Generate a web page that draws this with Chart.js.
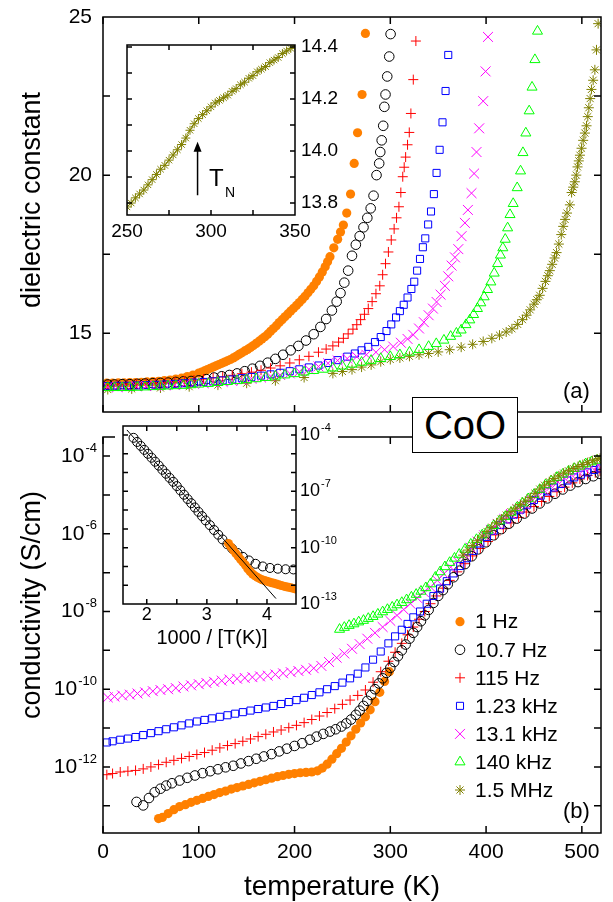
<!DOCTYPE html>
<html lang="en">
<head>
<meta charset="UTF-8">
<meta name="viewport" content="width=device-width, initial-scale=1.0">
<title>CoO: dielectric constant and conductivity</title>
<script src="https://cdn.jsdelivr.net/npm/chart.js"></script>
<style>
  body { margin: 0; background: #fff; }
  #fig { position: relative; width: 613px; height: 902px; overflow: hidden;
         font-family: "Liberation Sans", Arial, Helvetica, sans-serif; color: #000; }
  #fig canvas { position: absolute; }
  .txt { position: absolute; white-space: nowrap; line-height: 1; }
  .mid { transform: translate(-50%, -50%); }
  .rot { transform: translate(-50%, -50%) rotate(-90deg); }
  #coo { position: absolute; left: 412px; top: 397px; width: 104px; height: 54px;
         border: 1px solid #000; background: #fff; font-size: 40px; line-height: 54px; text-align: center; }
</style>
</head>
<body>
<div id="fig">
  <canvas id="epsChart" width="613" height="420" style="left:0;top:0"></canvas>
  <canvas id="sigChart" width="613" height="482" style="left:0;top:420px"></canvas>
  <canvas id="epsInset" width="240" height="220" style="left:112px;top:30px"></canvas>
  <canvas id="sigInset" width="240" height="240" style="left:113px;top:415px"></canvas>

  <div class="txt rot" style="left:31px;top:200px;font-size:27px">dielectric constant</div>
  <div class="txt rot" style="left:31px;top:605px;font-size:27px">conductivity (S/cm)</div>
  <div class="txt mid" style="left:342px;top:886px;font-size:28px">temperature (K)</div>
  <div class="txt mid" style="left:212px;top:637px;font-size:20px">1000 / [T(K)]</div>
  <div class="txt" style="left:563px;top:380px;font-size:22px">(a)</div>
  <div class="txt" style="left:563px;top:800px;font-size:22px">(b)</div>
  <div class="txt" style="left:209px;top:166px;font-size:24px">T</div>
  <div class="txt" style="left:225px;top:185px;font-size:14px">N</div>
  <div id="coo">CoO</div>
</div>

<script>
const FONT = '"Liberation Sans", Arial, Helvetica, sans-serif';
Chart.defaults.font.family = FONT;
Chart.defaults.color = '#000';

// ---------- data ----------
const freqLabels = ['1 Hz', '10.7 Hz', '115 Hz', '1.23 kHz', '13.1 kHz', '140 kHz', '1.5 MHz'];

// (a) dielectric constant vs temperature (K)
const epsT1Hz = [4,10,16,22,28,34,40,46,52,58,64,70,76,82,88,94,100,103,106,109,112,115,118,121,124,127,130,133,136,139,142,145,148,151,154,157,160,163,166,169,172,175,178,181,184,187,190,193,196,199,202,205,208,211,214,217,220,223,226,229,232,234.5,237,241,245,248,251,254.5,258.5,262.3,265.8,270.5,274];
const eps1Hz = [13.42,13.42,13.43,13.43,13.44,13.44,13.45,13.46,13.47,13.48,13.5,13.52,13.55,13.58,13.63,13.68,13.74,13.77,13.81,13.85,13.89,13.93,13.97,14.01,14.05,14.09,14.13,14.17,14.22,14.27,14.33,14.38,14.44,14.49,14.55,14.61,14.68,14.75,14.82,14.89,14.97,15.06,15.15,15.24,15.34,15.43,15.52,15.61,15.7,15.79,15.88,15.97,16.07,16.17,16.28,16.39,16.5,16.64,16.78,16.94,17.1,17.26,17.42,17.7,17.97,18.2,18.42,18.8,19.4,20.37,21.34,22.55,24.48];

const epsT10Hz = [5,12,20,28,36,44,52,60,68,76,84,92,100,108,116,124,132,140,148,156,164,172,180,188,196,204,212,220,227,233,239,244,248,252,256,260,264,268,272,276,279.5,282.5,285.6,288.4,289.5,291,292.6,293.8,295,296.8,298.9,300.3];
const eps10Hz = [13.38,13.38,13.39,13.39,13.4,13.41,13.42,13.43,13.44,13.46,13.48,13.49,13.51,13.55,13.6,13.64,13.68,13.73,13.8,13.88,13.97,14.07,14.19,14.32,14.46,14.6,14.77,14.97,15.2,15.45,15.72,16.0,16.27,16.6,16.98,17.45,17.8,18.07,18.35,18.65,18.95,19.35,20.0,20.37,20.73,21.1,21.56,22.16,22.55,23.12,23.75,24.46];

const epsT115Hz = [5,15,25,35,45,55,65,75,85,95,105,115,125,135,145,155,165,175,185,195,205,215,225,233,240,246,251,256,261,265,269,273,277,281,285,289,292,295,298,301,304,306.5,309,311,313,314.5,316,318,319.8,321.5,324,326.7];
const eps115Hz = [13.36,13.37,13.38,13.39,13.4,13.42,13.44,13.46,13.49,13.52,13.55,13.59,13.62,13.67,13.72,13.77,13.83,13.9,13.97,14.06,14.16,14.27,14.4,14.5,14.6,14.72,14.84,14.98,15.13,15.27,15.43,15.6,15.78,16.0,16.25,16.5,16.85,17.2,17.57,17.95,18.3,18.65,19.0,19.45,19.95,20.25,20.57,20.96,21.35,21.95,23.02,24.24];

const epsT1k = [5,15,25,35,45,55,65,75,85,95,105,115,125,135,145,155,165,175,185,195,205,215,225,235,245,255,263,270,277,284,290,296,301,306,310,314,318,322,325,328,331,334,336.5,339.5,342.5,345.5,348.3,351.5,354.5,357.7,360.5];
const eps1k = [13.33,13.34,13.34,13.35,13.36,13.37,13.38,13.4,13.42,13.44,13.46,13.48,13.51,13.54,13.58,13.62,13.66,13.7,13.75,13.8,13.86,13.92,13.98,14.06,14.15,14.26,14.36,14.46,14.57,14.72,14.88,15.07,15.28,15.5,15.7,15.9,16.13,16.4,16.63,16.98,17.35,17.72,18.0,18.44,18.85,19.4,20.07,20.8,21.67,22.66,23.8];

const epsT13k = [5,15,25,35,45,55,65,75,85,95,105,115,125,135,145,155,165,175,185,195,205,215,225,235,245,255,265,275,285,294,303,311,318,324,330,335,340,344.5,348.3,352.5,357,360.5,364,367.5,371,374.4,377.9,381,384.8,387.5,390,392.8,397,399.5,402];
const eps13k = [13.3,13.3,13.31,13.32,13.33,13.34,13.35,13.36,13.38,13.4,13.42,13.44,13.46,13.49,13.52,13.56,13.6,13.64,13.68,13.73,13.79,13.86,13.95,14.05,14.14,14.2,14.26,14.32,14.4,14.48,14.58,14.7,14.82,14.95,15.15,15.35,15.57,15.78,15.99,16.22,16.5,16.8,17.14,17.4,17.66,18.07,18.49,18.9,19.43,20.05,20.73,21.48,22.34,23.28,24.37];

const epsT140k = [5,12,20,28,36,44,52,60,68,76,84,92,100,110,120,130,140,150,160,170,180,190,200,210,220,230,240,250,260,270,280,290,300,310,320,330,340,348,356,363,369,374,379,383,387,391,394.5,398,401.5,405,408.5,412,415,417.5,420,422.5,425,428.3,432.5,436,438.5,441.5,445,448,451,453.7];
const eps140k = [13.28,13.28,13.28,13.28,13.29,13.3,13.31,13.32,13.33,13.34,13.35,13.37,13.39,13.41,13.44,13.47,13.5,13.53,13.56,13.6,13.64,13.68,13.72,13.77,13.82,13.86,13.9,13.96,14.02,14.08,14.14,14.2,14.26,14.32,14.4,14.48,14.58,14.67,14.78,14.9,15.0,15.1,15.27,15.42,15.59,15.78,15.96,16.15,16.38,16.62,16.9,17.2,17.47,17.7,17.97,18.33,18.75,19.1,19.6,20.13,20.71,21.33,22.03,22.78,23.65,24.55];

const epsT1M = [5,30,60,90,120,150,180,210,240,250,260,270,280,290,300,310,320,330,340,350,362,374,386,397,406,414,421,427,433,438,442.3,446,450,453,456,459,462,464.5,466.6,469,471.5,473.6,476,478.5,480.5,482.5,484.5,487.5,489.3,491,492.7,494.2,495.5,496.8,498,499.7,501.4,503.2,504.9,506.2,507.3,508.7,510,511.8,513.6,515.3,517];
const eps1M = [13.22,13.24,13.27,13.31,13.36,13.42,13.5,13.6,13.73,13.79,13.85,13.93,14.0,14.1,14.17,14.22,14.27,14.32,14.36,14.41,14.48,14.56,14.65,14.74,14.84,14.94,15.04,15.14,15.28,15.43,15.57,15.74,15.92,16.06,16.2,16.42,16.64,16.82,16.98,17.18,17.38,17.55,17.82,18.12,18.38,18.6,18.8,19.06,19.45,19.62,19.79,20.0,20.26,20.45,20.63,20.85,21.1,21.33,21.56,21.85,22.13,22.42,22.71,23.0,23.33,23.96,24.79];

// inset (a): 1.5 MHz around T_N
const insetT = [250,252.5,255,257.5,260,262.5,265,267.5,270,272.5,275,277.5,280,282.5,285,287.5,290,292.5,295,297.5,300,302.5,305,307.5,310,312.5,315,317.5,320,322.5,325,327.5,330,332.5,335,337.5,340,342.5,345,347.5,350];
const insetEps = [13.785,13.8,13.82,13.835,13.85,13.87,13.89,13.91,13.93,13.945,13.965,13.985,14.005,14.025,14.05,14.08,14.105,14.125,14.14,14.155,14.17,14.185,14.195,14.205,14.215,14.23,14.24,14.255,14.265,14.28,14.29,14.305,14.315,14.325,14.34,14.35,14.36,14.375,14.385,14.395,14.405];
const tNeel = 292;

// (b) conductivity, log10(sigma in S/cm) vs temperature (K)
const sigT1Hz = [58,62,68,74,80,86,92,98,104,110,116,122,128,134,140,146,152,158,164,170,176,182,188,194,200,206,212,218,224,229,234,239,244,249,254,259,264,269,274,279,284,289,294,299];
const logSig1Hz = [-13.33,-13.3,-13.2,-13.1,-13.02,-12.97,-12.91,-12.86,-12.81,-12.76,-12.71,-12.66,-12.62,-12.57,-12.53,-12.49,-12.45,-12.41,-12.37,-12.33,-12.29,-12.25,-12.22,-12.19,-12.17,-12.15,-12.14,-12.13,-12.1,-12.03,-11.93,-11.8,-11.66,-11.52,-11.36,-11.2,-11.03,-10.87,-10.71,-10.53,-10.32,-10.08,-9.8,-9.55];

const sigT10Hz = [35,42,48,54,60,66,72,80,88,96,104,112,120,128,136,144,152,160,168,176,184,192,200,208,216,223,230,237,243,249,254,259,264,268,272,276,280,284,288,292,296,300,304,308,312,316,320,324,328,332,336,340,345,350,355,360,366,372,378,385,392,400,408,416,424,432,440,448,456,464,472,480,488,496,504,512,519];
const logSig10Hz = [-12.9,-12.99,-12.8,-12.65,-12.56,-12.48,-12.42,-12.35,-12.28,-12.22,-12.16,-12.11,-12.06,-12.01,-11.97,-11.91,-11.85,-11.79,-11.73,-11.67,-11.6,-11.53,-11.46,-11.39,-11.3,-11.22,-11.15,-11.09,-11.03,-10.96,-10.88,-10.78,-10.66,-10.55,-10.43,-10.3,-10.15,-10.0,-9.85,-9.72,-9.58,-9.45,-9.3,-9.15,-9.0,-8.85,-8.7,-8.55,-8.4,-8.25,-8.1,-7.96,-7.78,-7.6,-7.45,-7.3,-7.12,-6.95,-6.78,-6.58,-6.4,-6.22,-6.04,-5.88,-5.74,-5.61,-5.48,-5.35,-5.22,-5.09,-4.97,-4.86,-4.76,-4.67,-4.59,-4.52,-4.46];

const sigT115Hz = [4,10,18,26,34,42,50,58,66,74,82,90,98,106,114,122,130,138,146,154,162,170,178,186,194,202,210,218,226,234,242,250,258,266,274,282,290,298,305,312,318,324,330,336,342,348,355,362,370,378,386,394,402,410,418,426,434,442,450,458,466,474,482,490,498,506,514,519];
const logSig115Hz = [-12.2,-12.17,-12.13,-12.11,-12.09,-12.05,-12.0,-11.94,-11.88,-11.83,-11.78,-11.73,-11.68,-11.63,-11.57,-11.51,-11.45,-11.4,-11.34,-11.28,-11.22,-11.16,-11.1,-11.05,-10.99,-10.93,-10.86,-10.78,-10.69,-10.6,-10.5,-10.39,-10.28,-10.16,-10.02,-9.82,-9.55,-9.28,-9.05,-8.82,-8.6,-8.4,-8.2,-8.0,-7.8,-7.6,-7.4,-7.2,-6.98,-6.77,-6.57,-6.38,-6.2,-6.03,-5.87,-5.72,-5.58,-5.44,-5.3,-5.17,-5.04,-4.92,-4.8,-4.69,-4.59,-4.5,-4.43,-4.39];

const sigT1k = [4,10,18,26,34,42,50,58,66,74,82,90,98,106,114,122,130,138,146,154,162,170,178,186,194,202,210,218,226,234,242,250,258,266,274,282,290,298,305,312,318,324,331,338,345,352,359,366,373,380,387,394,401,408,415,422,429,436,443,450,457,464,471,478,485,492,499,506,513,519];
const logSig1k = [-11.37,-11.34,-11.3,-11.27,-11.23,-11.18,-11.13,-11.08,-11.03,-10.98,-10.93,-10.88,-10.83,-10.79,-10.75,-10.71,-10.67,-10.63,-10.59,-10.55,-10.51,-10.47,-10.43,-10.38,-10.33,-10.28,-10.22,-10.15,-10.08,-10.0,-9.92,-9.83,-9.72,-9.6,-9.44,-9.24,-9.03,-8.82,-8.64,-8.47,-8.32,-8.15,-8.0,-7.8,-7.6,-7.41,-7.22,-7.02,-6.83,-6.63,-6.44,-6.25,-6.08,-5.92,-5.77,-5.63,-5.51,-5.38,-5.25,-5.13,-5.02,-4.91,-4.81,-4.72,-4.63,-4.55,-4.48,-4.42,-4.36,-4.32];

const sigT13k = [5,12,20,28,36,44,52,60,68,76,84,92,100,108,116,124,132,140,148,156,164,172,180,188,196,204,212,220,228,236,244,252,260,268,276,284,292,300,307,314,321,328,335,342,349,356,363,370,377,384,391,398,405,412,419,426,433,440,447,454,461,468,475,482,489,496,503,510,517];
const logSig13k = [-10.21,-10.19,-10.16,-10.14,-10.11,-10.08,-10.05,-10.02,-10.0,-9.97,-9.93,-9.9,-9.87,-9.84,-9.81,-9.78,-9.75,-9.73,-9.71,-9.69,-9.67,-9.65,-9.62,-9.59,-9.56,-9.53,-9.5,-9.46,-9.4,-9.3,-9.19,-9.08,-8.96,-8.84,-8.7,-8.55,-8.4,-8.24,-8.1,-7.95,-7.8,-7.65,-7.5,-7.37,-7.2,-7.03,-6.86,-6.7,-6.53,-6.36,-6.2,-6.04,-5.9,-5.76,-5.62,-5.49,-5.37,-5.25,-5.13,-5.01,-4.89,-4.78,-4.67,-4.57,-4.48,-4.4,-4.33,-4.28,-4.24];

const sigT140k = [247,252,257,262,267,272,277,282,287,292,297,302,307,312,317,322,327,332,337,342,347,352,357,362,367,372,378,384,390,396,402,408,414,420,426,432,438,444,450,456,462,468,474,480,486,492,498,504,510,516];
const logSig140k = [-8.46,-8.41,-8.36,-8.32,-8.27,-8.23,-8.18,-8.13,-8.07,-8.01,-7.95,-7.89,-7.83,-7.77,-7.7,-7.63,-7.56,-7.48,-7.39,-7.29,-7.12,-6.98,-6.85,-6.74,-6.63,-6.53,-6.4,-6.27,-6.15,-6.03,-5.91,-5.79,-5.67,-5.56,-5.45,-5.33,-5.21,-5.1,-4.99,-4.86,-4.74,-4.64,-4.55,-4.47,-4.39,-4.32,-4.26,-4.2,-4.15,-4.11];

const sigT1M = [376,381,386,391,396,401,406,411,416,421,426,431,436,441,446,451,456,461,466,471,476,481,486,491,496,501,506,511,516,519];
const logSig1M = [-6.55,-6.42,-6.3,-6.18,-6.06,-5.94,-5.83,-5.72,-5.62,-5.52,-5.43,-5.34,-5.25,-5.16,-5.07,-4.96,-4.85,-4.75,-4.66,-4.58,-4.51,-4.44,-4.38,-4.32,-4.27,-4.22,-4.17,-4.12,-4.08,-4.06];

// inset (b): log10(sigma) vs 1000/T
const invT10Hz = [1.78,1.84,1.9,1.96,2.02,2.08,2.14,2.2,2.26,2.32,2.38,2.44,2.5,2.56,2.62,2.68,2.74,2.8,2.86,2.92,2.98,3.05,3.12,3.19,3.26,3.34,3.42,3.51,3.6,3.7,3.81,3.93,4.05,4.18,4.31,4.44];
const invLogSig10Hz = [-4.15,-4.37,-4.58,-4.79,-5.0,-5.21,-5.42,-5.63,-5.85,-6.06,-6.28,-6.49,-6.72,-6.95,-7.18,-7.41,-7.63,-7.86,-8.09,-8.32,-8.55,-8.8,-9.06,-9.31,-9.56,-9.82,-10.05,-10.28,-10.49,-10.68,-10.86,-11.0,-11.08,-11.12,-11.15,-11.16];
const invT1Hz = [3.36,3.4,3.44,3.48,3.52,3.56,3.6,3.64,3.68,3.72,3.76,3.8,3.84,3.88,3.92,3.96,4.0,4.04,4.08,4.12,4.16,4.2,4.24,4.28,4.32,4.36,4.4,4.44,4.48];
const invLogSig1Hz = [-9.78,-9.96,-10.13,-10.3,-10.46,-10.62,-10.77,-10.92,-11.12,-11.27,-11.4,-11.5,-11.58,-11.65,-11.71,-11.75,-11.79,-11.83,-11.87,-11.9,-11.94,-11.98,-12.02,-12.05,-12.08,-12.11,-12.14,-12.17,-12.2];
const fitInvT = [1.67, 4.15];
const fitLogSig = [-3.73, -12.71];

// ticks
const tempTicks = [0, 100, 200, 300, 400, 500];
const epsTickMarks = [15, 17.5, 20, 22.5];
const sigDecades = [-4, -5, -6, -7, -8, -9, -10, -11, -12, -13];
const sigLabelDecades = [-4, -6, -8, -10, -12];
const insetTTickMarks = [275, 300, 325];
const insetEpsTickMarks = [13.8, 13.9, 14.0, 14.1, 14.2, 14.3, 14.4];
const invTTickMarks = [2, 2.5, 3, 3.5, 4];
const insetSigDecades = [-4, -5, -6, -7, -8, -9, -10, -11, -12];
const insetSigLabelDecades = [-4, -7, -10, -13];

// ---------- helpers ----------
const xy = (xs, ys) => xs.map((x, i) => ({x: x, y: ys[i]}));
const xyLog = (xs, ls) => xs.map((x, i) => ({x: x, y: Math.pow(10, ls[i])}));
const pow10 = e => Math.pow(10, e);

const looks = [
  {style: 'circle',   r: 4.6, color: '#ff8000', filled: true},
  {style: 'circle',   r: 4.8, color: '#000000'},
  {style: 'cross',    r: 5,   color: '#ff0000'},
  {style: 'rect',     r: 5,   color: '#0000ff'},
  {style: 'crossRot', r: 7,   color: '#ff00ff'},
  {style: 'triangle', r: 5.8, color: '#00ff00'},
  {style: 'star',     r: 5,   color: '#808000'}
];

function series(i, points, order, r) {
  const m = looks[i];
  return {
    label: freqLabels[i], data: points, order: order, showLine: false,
    pointStyle: m.style, pointRadius: r || m.r, pointHoverRadius: r || m.r,
    pointBorderWidth: m.filled ? 0 : 1,
    pointBorderColor: m.color,
    pointBackgroundColor: m.filled ? m.color : 'rgba(0,0,0,0)'
  };
}

function drawMark(c, m, x, y) {
  const r = m.r, h = m.r * Math.SQRT1_2;
  c.save();
  c.strokeStyle = m.color; c.fillStyle = m.color; c.lineWidth = 1;
  c.beginPath();
  switch (m.style) {
    case 'circle': c.arc(x, y, r, 0, Math.PI * 2); break;
    case 'cross': c.moveTo(x - r, y); c.lineTo(x + r, y); c.moveTo(x, y - r); c.lineTo(x, y + r); break;
    case 'rect': c.rect(x - h, y - h, 2 * h, 2 * h); break;
    case 'crossRot': c.moveTo(x - h, y - h); c.lineTo(x + h, y + h); c.moveTo(x - h, y + h); c.lineTo(x + h, y - h); break;
    case 'triangle':
      for (let k = 0; k < 3; k++) {
        const a = k * 2 * Math.PI / 3;
        if (k) c.lineTo(x + Math.sin(a) * r, y - Math.cos(a) * r); else c.moveTo(x + Math.sin(a) * r, y - Math.cos(a) * r);
      }
      c.closePath(); break;
    case 'star':
      c.moveTo(x - r, y); c.lineTo(x + r, y); c.moveTo(x, y - r); c.lineTo(x, y + r);
      c.moveTo(x - h, y - h); c.lineTo(x + h, y + h); c.moveTo(x - h, y + h); c.lineTo(x + h, y - h); break;
  }
  if (m.filled) c.fill(); else c.stroke();
  c.restore();
}

// "10" with a raised exponent, anchored at x (right edge if align == 'right')
function logLabels(c, scale, exps, x, align, fs, efs, raise) {
  c.save();
  c.fillStyle = '#000';
  c.textBaseline = 'middle';
  c.textAlign = 'left';
  exps.forEach(e => {
    const y = scale.getPixelForValue(pow10(e));
    const es = String(e);
    c.font = efs + 'px ' + FONT; const ew = c.measureText(es).width;
    c.font = fs + 'px ' + FONT; const bw = c.measureText('10').width;
    const x0 = align === 'right' ? x - ew - bw - 1 : x;
    c.fillText('10', x0, y);
    c.font = efs + 'px ' + FONT;
    c.fillText(es, x0 + bw + 1, y - raise);
  });
  c.restore();
}

// frame + inward ticks, optional white backing and extras
function decor(cfg) {
  return {
    id: 'decor',
    beforeDraw(chart) {
      if (!cfg.bg) return;
      const a = chart.chartArea, c = chart.ctx, b = cfg.bg;
      c.save(); c.fillStyle = '#fff';
      c.fillRect(a.left - b[0], a.top - b[1], a.right - a.left + b[0] + b[2], a.bottom - a.top + b[1] + b[3]);
      c.restore();
    },
    afterDatasetsDraw(chart) {
      const a = chart.chartArea, c = chart.ctx, sx = chart.scales.x, sy = chart.scales.y;
      c.save();
      c.strokeStyle = '#000'; c.lineWidth = cfg.lw;
      c.beginPath();
      cfg.xTicks.forEach(v => {
        const p = sx.getPixelForValue(v);
        c.moveTo(p, a.bottom); c.lineTo(p, a.bottom - cfg.len);
        c.moveTo(p, a.top); c.lineTo(p, a.top + cfg.len);
      });
      cfg.yTicks.forEach(v => {
        const p = sy.getPixelForValue(v);
        c.moveTo(a.left, p); c.lineTo(a.left + cfg.len, p);
        c.moveTo(a.right, p); c.lineTo(a.right - cfg.len, p);
      });
      c.stroke();
      c.strokeRect(a.left, a.top, a.right - a.left, a.bottom - a.top);
      c.restore();
    },
    afterDraw(chart) { if (cfg.extra) cfg.extra(chart, chart.ctx); }
  };
}

const noGrid = {display: false, drawTicks: false};
const noBorder = {display: false};
const base = {
  responsive: false, devicePixelRatio: 1, animation: false, events: [],
  plugins: {legend: {display: false}, tooltip: {enabled: false}}
};

// ---------- (a) dielectric constant ----------
new Chart(document.getElementById('epsChart'), {
  type: 'scatter',
  data: {datasets: [
    series(0, xy(epsT1Hz, eps1Hz), 5),
    series(1, xy(epsT10Hz, eps10Hz), 4),
    series(2, xy(epsT115Hz, eps115Hz), 3),
    series(3, xy(epsT1k, eps1k), 2),
    series(4, xy(epsT13k, eps13k), 1),
    series(5, xy(epsT140k, eps140k), 0),
    series(6, xy(epsT1M, eps1M), 6)
  ]},
  options: Object.assign({}, base, {
    layout: {padding: {top: 17, right: 12, bottom: 0, left: 0}},
    scales: {
      x: {type: 'linear', min: 0, max: 520, grid: noGrid, border: noBorder, ticks: {display: false},
          afterFit: s => { s.height = 6; s.paddingLeft = 0; s.paddingRight = 0; }},
      y: {type: 'linear', min: 12.51, max: 25, grid: noGrid, border: noBorder,
          ticks: {stepSize: 5, includeBounds: false, padding: 11, font: {size: 21}, color: '#000'},
          afterFit: s => { s.width = 103; s.paddingTop = 0; s.paddingBottom = 0; }}
    }
  }),
  plugins: [decor({lw: 1.5, len: 7, xTicks: tempTicks, yTicks: epsTickMarks})]
});

// ---------- (b) conductivity ----------
new Chart(document.getElementById('sigChart'), {
  type: 'scatter',
  data: {datasets: [
    series(0, xyLog(sigT1Hz, logSig1Hz), 6),
    series(1, xyLog(sigT10Hz, logSig10Hz), 4),
    series(2, xyLog(sigT115Hz, logSig115Hz), 5),
    series(3, xyLog(sigT1k, logSig1k), 3),
    series(4, xyLog(sigT13k, logSig13k), 2),
    series(5, xyLog(sigT140k, logSig140k), 1),
    series(6, xyLog(sigT1M, logSig1M), 0)
  ]},
  options: Object.assign({}, base, {
    layout: {padding: {top: 17, right: 12, bottom: 0, left: 0}},
    scales: {
      x: {type: 'linear', min: 0, max: 520, grid: noGrid, border: noBorder,
          ticks: {stepSize: 100, includeBounds: false, padding: 7, font: {size: 21}, color: '#000', maxRotation: 0, autoSkip: false},
          afterFit: s => { s.height = 69; s.paddingLeft = 0; s.paddingRight = 0; }},
      y: {type: 'logarithmic', min: pow10(-13.7), max: pow10(-3.51), grid: noGrid, border: noBorder,
          ticks: {display: false},
          afterFit: s => { s.width = 103; s.paddingTop = 0; s.paddingBottom = 0; }}
    }
  }),
  plugins: [decor({
    lw: 1.5, len: 7, xTicks: tempTicks, yTicks: sigDecades.map(pow10),
    extra: (chart, c) => {
      logLabels(c, chart.scales.y, sigLabelDecades, 97, 'right', 21, 13, 8);
      const lx = 460, tx = 475, y0 = 201.7, dy = 28.05;
      c.save();
      c.font = '21px ' + FONT; c.fillStyle = '#000'; c.textBaseline = 'middle'; c.textAlign = 'left';
      freqLabels.forEach((name, i) => {
        drawMark(c, looks[i], lx, y0 + i * dy);
        c.fillText(name, tx, y0 + i * dy + 1);
      });
      c.restore();
    }
  })]
});

// ---------- inset (a) ----------
new Chart(document.getElementById('epsInset'), {
  type: 'scatter',
  data: {datasets: [
    Object.assign(series(6, xy(insetT, insetEps), 0, 4.5), {showLine: true, borderColor: '#808000', borderWidth: 1})
  ]},
  options: Object.assign({}, base, {
    layout: {padding: {top: 15, right: 0, bottom: 0, left: 15}},
    scales: {
      x: {type: 'linear', min: 250, max: 350, grid: noGrid, border: noBorder,
          ticks: {stepSize: 50, includeBounds: false, padding: 5, font: {size: 19}, color: '#000', maxRotation: 0, autoSkip: false},
          afterFit: s => { s.height = 35; s.paddingLeft = 0; s.paddingRight = 0; }},
      y: {type: 'linear', position: 'right', min: 13.754, max: 14.408, grid: noGrid, border: noBorder,
          ticks: {stepSize: 0.2, includeBounds: false, padding: 6, font: {size: 19}, color: '#000',
                  callback: v => v.toFixed(1)},
          afterFit: s => { s.width = 57; s.paddingTop = 0; s.paddingBottom = 0; }}
    }
  }),
  plugins: [decor({
    lw: 1.5, len: 5, xTicks: insetTTickMarks, yTicks: insetEpsTickMarks, bg: [0, 0, 0, 0],
    extra: (chart, c) => {
      const x = chart.scales.x.getPixelForValue(tNeel);
      const yTip = chart.scales.y.getPixelForValue(14.036);
      const yEnd = chart.scales.y.getPixelForValue(13.83);
      c.save();
      c.strokeStyle = '#000'; c.fillStyle = '#000'; c.lineWidth = 1.5;
      c.beginPath(); c.moveTo(x, yEnd); c.lineTo(x, yTip + 6); c.stroke();
      c.beginPath(); c.moveTo(x, yTip); c.lineTo(x - 4, yTip + 10); c.lineTo(x + 4, yTip + 10); c.closePath(); c.fill();
      c.restore();
    }
  })]
});

// ---------- inset (b) ----------
new Chart(document.getElementById('sigInset'), {
  type: 'scatter',
  data: {datasets: [
    {label: 'fit', data: xyLog(fitInvT, fitLogSig), showLine: true, pointRadius: 0, borderColor: '#000', borderWidth: 1, order: 0},
    series(0, xyLog(invT1Hz, invLogSig1Hz), 1, 4.5),
    series(1, xyLog(invT10Hz, invLogSig10Hz), 2, 4.5)
  ]},
  options: Object.assign({}, base, {
    layout: {padding: {top: 11, right: 0, bottom: 0, left: 10}},
    scales: {
      x: {type: 'linear', min: 1.605, max: 4.483, grid: noGrid, border: noBorder,
          ticks: {stepSize: 1, includeBounds: false, padding: 0, font: {size: 18}, color: '#000', maxRotation: 0, autoSkip: false},
          afterFit: s => { s.height = 51; s.paddingLeft = 0; s.paddingRight = 0; }},
      y: {type: 'logarithmic', position: 'right', min: 1e-13, max: pow10(-3.52), grid: noGrid, border: noBorder,
          ticks: {display: false},
          afterFit: s => { s.width = 57; s.paddingTop = 0; s.paddingBottom = 0; }}
    }
  }),
  plugins: [decor({
    lw: 1.5, len: 5, xTicks: invTTickMarks, yTicks: insetSigDecades.map(pow10), bg: [8, 0, 42, 0],
    extra: (chart, c) => {
      logLabels(c, chart.scales.y, insetSigLabelDecades, chart.chartArea.right + 4, 'left', 18, 11, 7);
    }
  })]
});
</script>
</body>
</html>
